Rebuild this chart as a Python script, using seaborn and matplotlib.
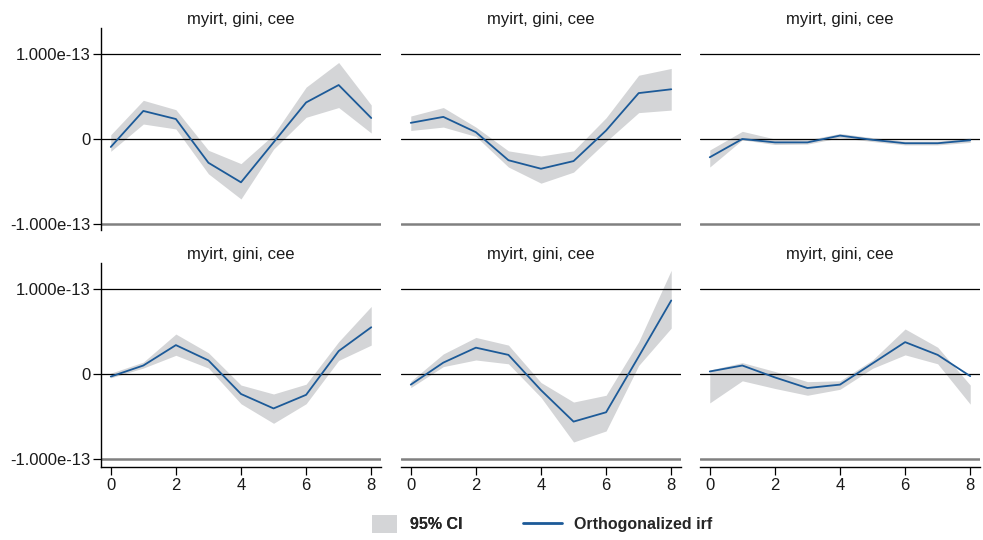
import numpy as np
import pandas as pd
import matplotlib
matplotlib.use("Agg")
import matplotlib.pyplot as plt
import seaborn as sns
from matplotlib.patches import Patch
from matplotlib.lines import Line2D

# ---------------- data (values in units of 1e-13) ----------------
steps = [0, 1, 2, 3, 4, 5, 6, 7, 8]
panel_titles = ["myirt, gini, cee"] * 6

irf_1 = [-0.094, 0.33, 0.235, -0.28, -0.51, -0.04, 0.43, 0.635, 0.247]
lo_1 = [-0.145, 0.176, 0.118, -0.41, -0.706, -0.12, 0.255, 0.37, 0.07]
hi_1 = [0.05, 0.455, 0.345, -0.133, -0.29, 0.05, 0.61, 0.90, 0.40]

irf_2 = [0.19, 0.26, 0.08, -0.25, -0.35, -0.26, 0.10, 0.54, 0.585]
lo_2 = [0.10, 0.14, 0.03, -0.33, -0.52, -0.39, -0.03, 0.31, 0.34]
hi_2 = [0.27, 0.37, 0.14, -0.14, -0.20, -0.14, 0.25, 0.75, 0.83]

irf_3 = [-0.215, 0.0, -0.04, -0.04, 0.04, -0.01, -0.05, -0.05, -0.015]
lo_3 = [-0.33, -0.01, -0.065, -0.06, 0.015, -0.03, -0.07, -0.07, -0.04]
hi_3 = [-0.13, 0.09, 0.0, -0.01, 0.065, 0.015, -0.025, -0.025, 0.01]

irf_4 = [-0.03, 0.10, 0.34, 0.16, -0.235, -0.405, -0.245, 0.27, 0.55]
lo_4 = [-0.045, 0.07, 0.22, 0.07, -0.35, -0.58, -0.35, 0.16, 0.34]
hi_4 = [0.01, 0.14, 0.47, 0.25, -0.13, -0.235, -0.12, 0.38, 0.795]

irf_5 = [-0.125, 0.134, 0.31, 0.225, -0.19, -0.56, -0.45, 0.205, 0.865]
lo_5 = [-0.16, 0.087, 0.165, 0.12, -0.275, -0.80, -0.67, 0.10, 0.54]
hi_5 = [-0.085, 0.236, 0.43, 0.34, -0.10, -0.33, -0.25, 0.38, 1.22]

irf_6 = [0.03, 0.10, -0.04, -0.165, -0.125, 0.125, 0.375, 0.225, -0.025]
lo_6 = [-0.34, -0.08, -0.17, -0.25, -0.18, 0.067, 0.225, 0.12, -0.355]
hi_6 = [0.047, 0.134, 0.03, -0.09, -0.08, 0.165, 0.53, 0.315, -0.13]

scale = 1e-13
ytick_vals = [-1e-13, 0.0, 1e-13]
ytick_labels = ["-1.000e-13", "0", "1.000e-13"]
xtick_vals = [0, 2, 4, 6, 8]
legend_labels = ["95% CI", "Orthogonalized irf"]

panels = [
    (irf_1, lo_1, hi_1), (irf_2, lo_2, hi_2), (irf_3, lo_3, hi_3),
    (irf_4, lo_4, hi_4), (irf_5, lo_5, hi_5), (irf_6, lo_6, hi_6),
]

# ---------------- style ----------------
sns.set_theme(style="white")
plt.rcParams["font.family"] = ["Liberation Sans", "DejaVu Sans"]

band_color = "#d4d5d7"
line_color = "#1c5a98"
grid_colors = ["#808080", "black", "black"]
grid_widths = [1.8, 0.9, 0.9]

W, H = 983, 540
fig = plt.figure(figsize=(W / 100, H / 100), dpi=100)
fig.patch.set_facecolor("white")

col_left = [101, 401, 700]
col_width = 280
rows = [(28, 230, (-1.071, 1.306)), (263, 467, (-1.094, 1.306))]

for k, (irf, lo, hi) in enumerate(panels):
    r, c = divmod(k, 3)
    top, bot, (ymin, ymax) = rows[r]
    ax = fig.add_axes([col_left[c] / W, 1 - bot / H, col_width / W, (bot - top) / H])
    ax.set_facecolor("white")

    df = pd.DataFrame({
        "step": steps,
        "irf": np.array(irf) * scale,
        "lo": np.array(lo) * scale,
        "hi": np.array(hi) * scale,
    })
    ax.fill_between(df["step"], df["lo"], df["hi"], color=band_color, lw=0, zorder=1)
    for yv, gc, gw in zip(ytick_vals, grid_colors, grid_widths):
        ax.axhline(yv, color=gc, lw=gw, zorder=2)
    sns.lineplot(data=df, x="step", y="irf", ax=ax, color=line_color, lw=1.3, zorder=3)

    ax.set_xlim(-0.3, 8.3)
    ax.set_ylim(ymin * scale, ymax * scale)
    ax.set_xlabel("")
    ax.set_ylabel("")
    ax.set_title(panel_titles[k], fontsize=12, pad=3, color="#1a1a1a")

    for s in ["top", "right"]:
        ax.spines[s].set_visible(False)
    ax.spines["left"].set_visible(c == 0)
    ax.spines["bottom"].set_visible(r == 1)
    for s in ["left", "bottom"]:
        ax.spines[s].set_color("black")
        ax.spines[s].set_linewidth(1.0)

    ax.set_yticks(ytick_vals)
    if c == 0:
        ax.set_yticklabels(ytick_labels)
        ax.tick_params(axis="y", left=True, labelleft=True, length=5.8, width=0.9,
                       direction="out", color="black", labelsize=12, pad=2,
                       labelcolor="#1a1a1a")
    else:
        ax.tick_params(axis="y", left=False, labelleft=False)

    ax.set_xticks(xtick_vals)
    if r == 1:
        ax.set_xticklabels([str(v) for v in xtick_vals])
        ax.tick_params(axis="x", bottom=True, labelbottom=True, length=5.8, width=0.9,
                       direction="out", color="black", labelsize=12, pad=2,
                       labelcolor="#1a1a1a")
    else:
        ax.tick_params(axis="x", bottom=False, labelbottom=False)

# ---------------- legend ----------------
leg_y = 1 - 524 / H
ci_handle = Patch(facecolor=band_color, edgecolor="none")
irf_handle = Line2D([0], [0], color=line_color, lw=2.0)
leg1 = fig.legend([ci_handle], [legend_labels[0]], loc="center left",
                  bbox_to_anchor=(372 / W, leg_y), frameon=False, borderpad=0,
                  borderaxespad=0, handlelength=1.56, handleheight=1.4,
                  handletextpad=0.84, prop={"size": 11.5, "weight": "bold"})
fig.add_artist(leg1)
leg2 = fig.legend([irf_handle], [legend_labels[1]], loc="center left",
                  bbox_to_anchor=(523 / W, leg_y), frameon=False, borderpad=0,
                  borderaxespad=0, handlelength=2.45, handletextpad=0.72,
                  prop={"size": 11.5, "weight": "bold"})

fig.savefig("out.png", dpi=100, facecolor="white")
